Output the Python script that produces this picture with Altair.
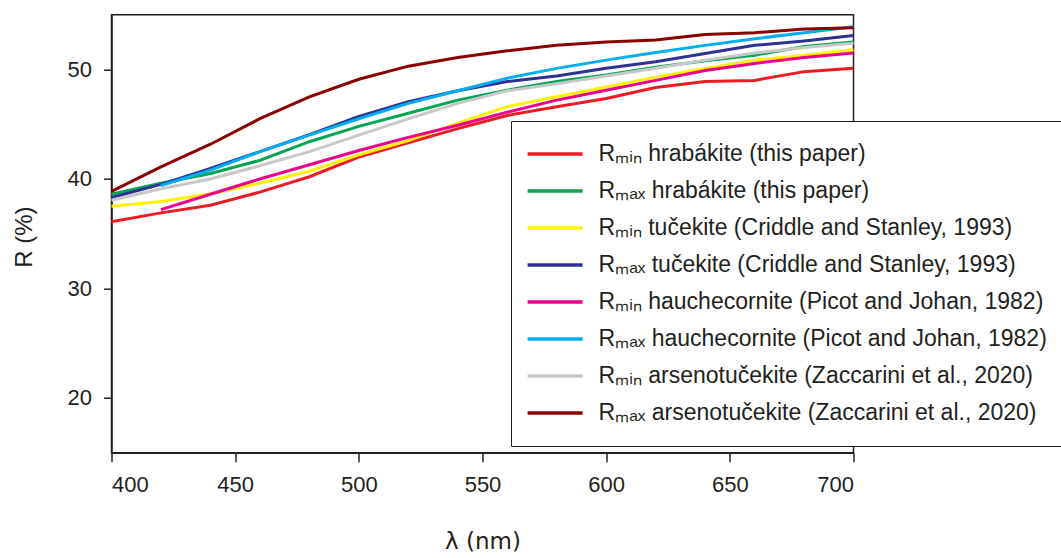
import altair as alt
import pandas as pd

# wavelengths (nm)
wl = [400, 420, 440, 460, 480, 500, 520, 540, 560, 580, 600, 620, 640, 660, 680, 700]
wl_h = [420, 440, 460, 480, 500, 520, 540, 560, 580, 600, 620, 640, 660, 680, 700]

# reflectance values (%)
rmin_hrabakite = [36.1, 36.9, 37.6, 38.8, 40.2, 42.0, 43.3, 44.6, 45.8, 46.6, 47.35, 48.35, 48.9, 49.0, 49.8, 50.1]
rmax_hrabakite = [38.6, 39.6, 40.5, 41.7, 43.4, 44.8, 46.0, 47.2, 48.1, 48.9, 49.5, 50.2, 50.8, 51.3, 52.1, 52.5]
rmin_tucekite = [37.5, 37.95, 38.65, 39.6, 40.7, 42.2, 43.5, 45.1, 46.6, 47.5, 48.4, 49.3, 50.1, 50.85, 51.3, 51.8]
rmax_tucekite = [38.3, 39.5, 40.95, 42.5, 44.05, 45.7, 47.05, 48.05, 48.9, 49.4, 50.1, 50.7, 51.46, 52.2, 52.6, 53.1]
rmin_hauchecornite = [37.2, 38.6, 40.0, 41.3, 42.6, 43.8, 44.9, 46.1, 47.2, 48.1, 49.0, 49.9, 50.55, 51.1, 51.5]
rmax_hauchecornite = [39.4, 40.8, 42.5, 44.0, 45.5, 46.9, 48.05, 49.2, 50.1, 50.85, 51.55, 52.2, 52.8, 53.35, 53.9]
rmin_arsenotucekite = [38.05, 39.1, 40.0, 41.2, 42.5, 44.0, 45.5, 46.9, 48.05, 48.7, 49.4, 50.1, 50.85, 51.5, 52.0, 52.4]
rmax_arsenotucekite = [38.87, 41.1, 43.17, 45.5, 47.5, 49.1, 50.3, 51.1, 51.7, 52.2, 52.5, 52.7, 53.2, 53.35, 53.7, 53.8]

labels = [
    "Rₘᵢₙ hrabákite (this paper)",
    "Rₘₐₓ  hrabákite (this paper)",
    "Rₘᵢₙ tučekite (Criddle and Stanley, 1993)",
    "Rₘₐₓ  tučekite (Criddle and Stanley, 1993)",
    "Rₘᵢₙ hauchecornite (Picot and Johan, 1982)",
    "Rₘₐₓ  hauchecornite (Picot and Johan, 1982)",
    "Rₘᵢₙ arsenotučekite (Zaccarini et al., 2020)",
    "Rₘₐₓ  arsenotučekite (Zaccarini et al., 2020)",
]
colors = ["#ED1C24", "#00A651", "#FFF200", "#2E3192", "#EC008C", "#00AEEF", "#C8C8C8", "#8B0000"]

series = [
    (labels[0], wl, rmin_hrabakite),
    (labels[1], wl, rmax_hrabakite),
    (labels[2], wl, rmin_tucekite),
    (labels[3], wl, rmax_tucekite),
    (labels[4], wl_h, rmin_hauchecornite),
    (labels[5], wl_h, rmax_hauchecornite),
    (labels[6], wl, rmin_arsenotucekite),
    (labels[7], wl, rmax_arsenotucekite),
]

rows = []
for i, (name, xs, ys) in enumerate(series):
    for x, y in zip(xs, ys):
        rows.append({"series": name, "idx": i, "wl": x, "R": y})
df = pd.DataFrame(rows)

INK = "#231F20"
FONT = "Liberation Sans"

chart = alt.Chart(df).mark_line(strokeWidth=3).encode(
    x=alt.X(
        "wl:Q",
        scale=alt.Scale(domain=[400, 700], nice=False, zero=False),
        axis=alt.Axis(
            values=[400, 450, 500, 550, 600, 650, 700],
            title="λ  (nm)",
            titleFont="DejaVu Sans",
            titleFontSize=23,
            titleFontWeight="normal",
            titleY=89,
            titleBaseline="middle",
            labelFontSize=22,
            labelPadding=13,
            tickSize=9,
            grid=False,
        ),
    ),
    y=alt.Y(
        "R:Q",
        scale=alt.Scale(domain=[15, 55], nice=False, zero=False),
        axis=alt.Axis(
            values=[20, 30, 40, 50],
            title="R (%)",
            titleFontSize=24,
            titleFontWeight="normal",
            titleX=-87,
            titleY=222,
            titleAngle=270,
            titleAlign="center",
            titleBaseline="middle",
            labelFontSize=22,
            labelPadding=12,
            tickSize=8,
            grid=False,
        ),
    ),
    color=alt.Color(
        "series:N",
        scale=alt.Scale(domain=labels, range=colors),
        sort=labels,
        title=None,
        legend=alt.Legend(
            orient="none",
            legendX=399.5,
            legendY=106.3,
            symbolType="stroke",
            symbolSize=3025,
            symbolStrokeWidth=3.5,
            labelFontSize=23,
            labelFont=FONT,
            labelColor=INK,
            labelLimit=800,
            labelOffset=14,
            padding=14.6,
            rowPadding=0,
            clipHeight=36.7,
            strokeColor=INK,
            fillColor="white",
        ),
    ),
    order=alt.Order("idx:Q"),
).properties(
    width=742,
    height=438,
    autosize=alt.AutoSizeParams(type="none"),
    padding={"left": 111.5, "top": 14.7, "right": 207.5, "bottom": 105.3},
).configure_view(
    stroke=INK, strokeWidth=1.5
).configure_axis(
    domainColor=INK,
    domainWidth=1.5,
    tickColor=INK,
    tickWidth=1.5,
    labelColor=INK,
    titleColor=INK,
    labelFont=FONT,
    titleFont=FONT,
)

chart.save("out.html", embed_options={"renderer": "svg", "actions": False})
